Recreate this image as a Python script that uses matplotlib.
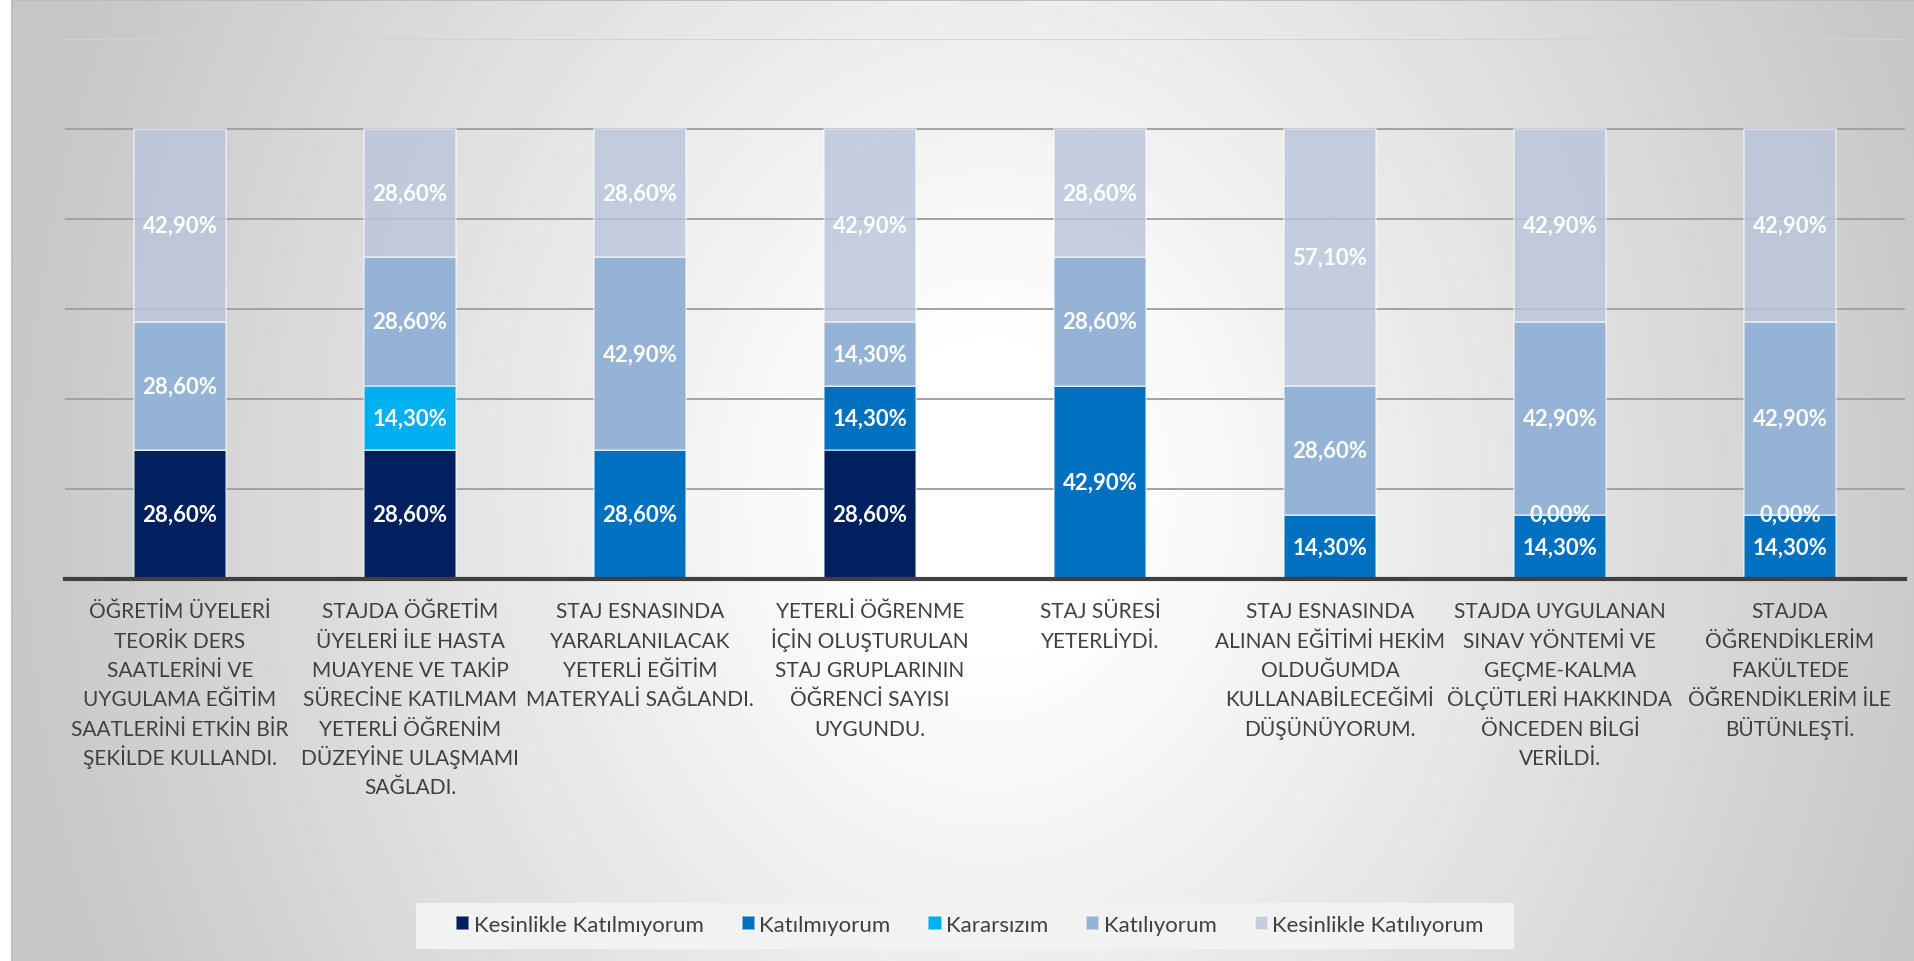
import numpy as np
import matplotlib
matplotlib.use("Agg")
import matplotlib.pyplot as plt
from matplotlib import transforms
from matplotlib.lines import Line2D
from matplotlib.patches import Rectangle

plt.rcParams['font.family'] = ['Lato', 'DejaVu Sans']

# ---- data -------------------------------------------------------------
categories = [
    "ÖĞRETİM ÜYELERİ\nTEORİK DERS\nSAATLERİNİ VE\nUYGULAMA EĞİTİM\nSAATLERİNİ ETKİN BİR\nŞEKİLDE KULLANDI.",
    "STAJDA ÖĞRETİM\nÜYELERİ İLE HASTA\nMUAYENE VE TAKİP\nSÜRECİNE KATILMAM\nYETERLİ ÖĞRENİM\nDÜZEYİNE ULAŞMAMI\nSAĞLADI.",
    "STAJ ESNASINDA\nYARARLANILACAK\nYETERLİ EĞİTİM\nMATERYALİ SAĞLANDI.",
    "YETERLİ ÖĞRENME\nİÇİN OLUŞTURULAN\nSTAJ GRUPLARININ\nÖĞRENCİ SAYISI\nUYGUNDU.",
    "STAJ SÜRESİ\nYETERLİYDİ.",
    "STAJ ESNASINDA\nALINAN EĞİTİMİ HEKİM\nOLDUĞUMDA\nKULLANABİLECEĞİMİ\nDÜŞÜNÜYORUM.",
    "STAJDA UYGULANAN\nSINAV YÖNTEMİ VE\nGEÇME-KALMA\nÖLÇÜTLERİ HAKKINDA\nÖNCEDEN BİLGİ\nVERİLDİ.",
    "STAJDA\nÖĞRENDİKLERİM\nFAKÜLTEDE\nÖĞRENDİKLERİM İLE\nBÜTÜNLEŞTİ.",
]

series_names = ["Kesinlikle Katılmıyorum", "Katılmıyorum", "Kararsızım",
                "Katılıyorum", "Kesinlikle Katılıyorum"]

# percentages; None = no answer recorded for that option
kesinlikle_katilmiyorum = [28.6, 28.6, None, 28.6, None, None, None, None]
katilmiyorum            = [None, None, 28.6, 14.3, 42.9, 14.3, 14.3, 14.3]
kararsizim              = [None, 14.3, None, None, None, None, 0.0, 0.0]
katiliyorum             = [28.6, 28.6, 42.9, 14.3, 28.6, 28.6, 42.9, 42.9]
kesinlikle_katiliyorum  = [42.9, 28.6, 28.6, 42.9, 28.6, 57.1, 42.9, 42.9]

series_values = [kesinlikle_katilmiyorum, katilmiyorum, kararsizim,
                 katiliyorum, kesinlikle_katiliyorum]

y_ticks = [0, 20, 40, 60, 80, 100, 120]

# ---- styling ----------------------------------------------------------
colors = ["#002060", "#0070C0", "#00B0F0", "#95B3D7", (0.725, 0.773, 0.863, 0.80)]
W, H = 1915, 962
fig = plt.figure(figsize=(W / 100, H / 100), dpi=100)
fig.patch.set_facecolor("white")

# radial grey background of the chart area
bx0, by_top = 12, 1
bg = fig.add_axes([bx0 / W, 0, (W - bx0) / W, (H - by_top) / H], zorder=-10)
yy, xx = np.mgrid[by_top:H, bx0:W].astype(float)
r = np.sqrt(((xx - 990) / 1000.0) ** 2 + ((yy - 500) / 1200.0) ** 2)
t = np.clip((r - 0.12) / 0.88, 0, 1)
shade = (255 - 57 * t) / 255.0
bg.imshow(shade, cmap="gray", vmin=0, vmax=1, aspect="auto",
          interpolation="bilinear")
bg.set_axis_off()
fig.add_artist(Line2D([bx0 / W, bx0 / W], [0, 1 - by_top / H],
                      transform=fig.transFigure, color="#b8b8b8", lw=1.2))
fig.add_artist(Line2D([bx0 / W, 1], [1 - by_top / H, 1 - by_top / H],
                      transform=fig.transFigure, color="#b8b8b8", lw=1.2))

# plot area
px0, px1, py_base, py_top = 65, 1905, 580, 40
ax = fig.add_axes([px0 / W, 1 - py_base / H, (px1 - px0) / W, (py_base - py_top) / H])
ax.set_facecolor("none")
x = np.arange(len(categories))
ax.set_xlim(-0.5, len(categories) - 0.5)
ax.set_ylim(y_ticks[0], y_ticks[-1])
for s in ax.spines.values():
    s.set_visible(False)
ax.tick_params(left=False, labelleft=False, bottom=False, labelbottom=False)

for yv in y_ticks[1:]:
    ax.axhline(yv, color="#d2d2d2" if yv == y_ticks[-1] else "#a2a2a2",
               lw=1.4, zorder=0)

bottom = np.zeros(len(categories))
handles = []
for name, vals, col in zip(series_names, series_values, colors):
    h = np.array([0.0 if v is None else v for v in vals])
    bars = ax.bar(x, h, width=0.4, bottom=bottom, color=col,
                  edgecolor=(1, 1, 1, 0.55), linewidth=1.2, label=name, zorder=2)
    labels = ["" if v is None else f"{v:.2f}".replace(".", ",") + "%" for v in vals]
    ax.bar_label(bars, labels=labels, label_type="center", color="white",
                 fontsize=16, fontweight="bold", zorder=4)
    handles.append(bars)
    bottom += h

ax.axhline(0, color="#404040", lw=3, zorder=5, clip_on=False)

# category labels under the bars, one line at a time for even spacing
trans = transforms.blended_transform_factory(ax.transData, ax.transAxes)
first_baseline_px, line_step_px = 618.5, 29.3
for xi, cat in zip(x, categories):
    for k, line in enumerate(cat.split("\n")):
        ypx = first_baseline_px + k * line_step_px
        ax.text(xi, -(ypx - py_base) / (py_base - py_top), line, transform=trans,
                ha="center", va="baseline", fontsize=15, color="#404040")

# legend on a light panel
lx0, lx1, ly0, ly1 = 416, 1514, 904, 950
fig.add_artist(Rectangle((lx0 / W, 1 - ly1 / H), (lx1 - lx0) / W, (ly1 - ly0) / H,
                         transform=fig.transFigure, facecolor="#f2f2f2",
                         edgecolor="none", zorder=3))
leg = fig.legend(handles=handles, labels=series_names, ncol=5,
                 loc="center", bbox_to_anchor=(970 / W, 1 - 926 / H),
                 borderaxespad=0, borderpad=0.3, fontsize=16,
                 handlelength=0.6, handleheight=0.6, handletextpad=0.2,
                 columnspacing=1.7, frameon=False, labelcolor="#404040")
leg.set_zorder(4)

fig.savefig("out.png", dpi=100)
